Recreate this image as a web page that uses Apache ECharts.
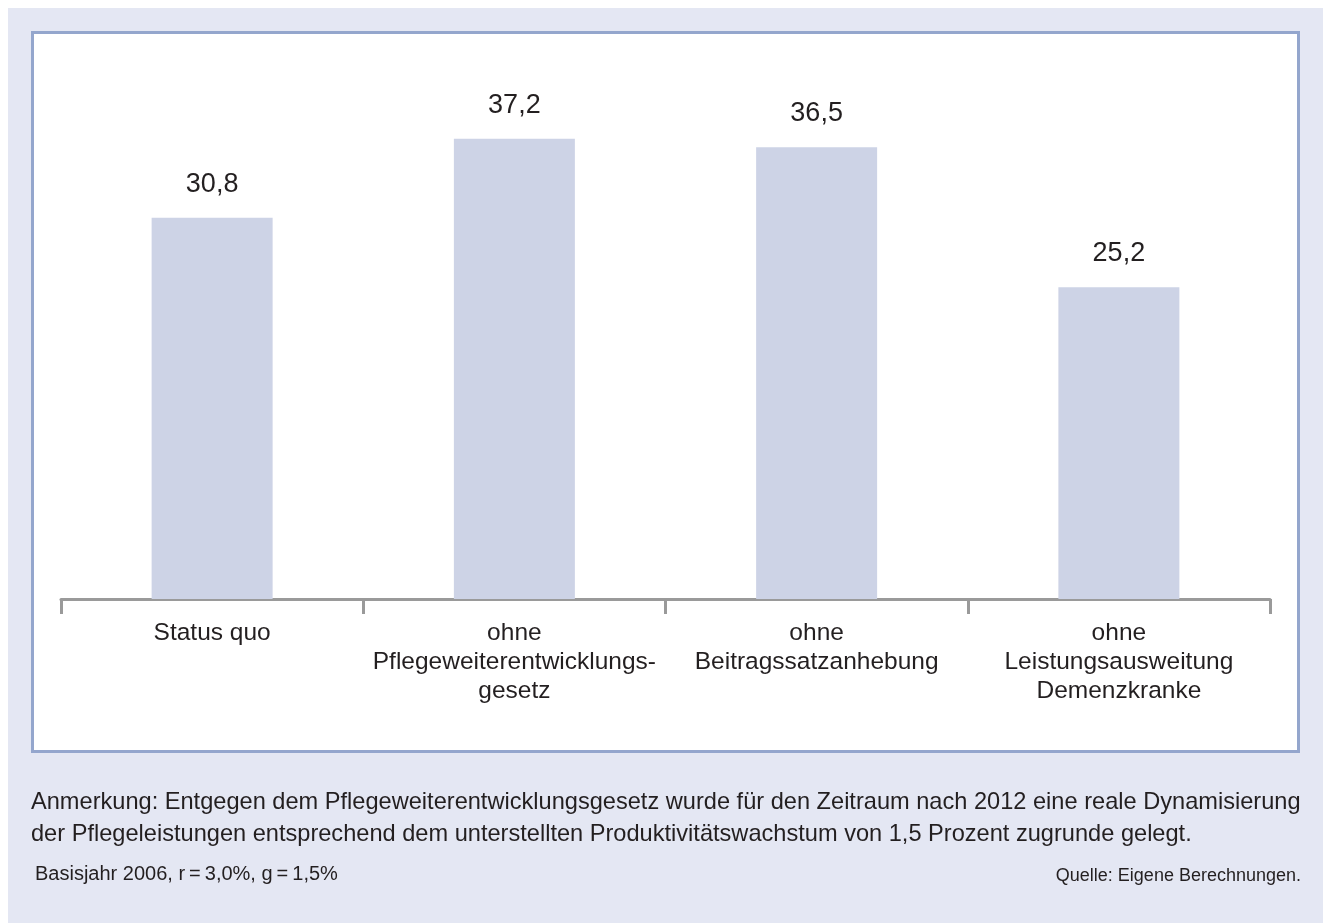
<!DOCTYPE html>
<html>
<head>
<meta charset="utf-8">
<style>
  html, body { margin: 0; padding: 0; background: #ffffff; }
  #chart { width: 1323px; height: 923px; }
</style>
<script src="https://cdn.jsdelivr.net/npm/echarts@6/dist/echarts.min.js"></script>
</head>
<body>
<div id="chart"></div>
<script>
// Scenarios and their values (percent)
const categories = [
  'Status quo',
  'ohne\nPflegeweiterentwicklungs-\ngesetz',
  'ohne\nBeitragssatzanhebung',
  'ohne\nLeistungsausweitung\nDemenzkranke'
];
const values = [30.8, 37.2, 36.5, 25.2];

const noteLines = [
  'Anmerkung: Entgegen dem Pflegeweiterentwicklungsgesetz wurde für den Zeitraum nach 2012 eine reale Dynamisierung',
  'der Pflegeleistungen entsprechend dem unterstellten Produktivitätswachstum von 1,5 Prozent zugrunde gelegt.'
];
const basisText = 'Basisjahr 2006, r\u2009=\u20093,0%, g\u2009=\u20091,5%';
const sourceText = 'Quelle: Eigene Berechnungen.';

const FONT = '"Liberation Sans", Arial, Helvetica, sans-serif';
const TEXT = '#231f20';

const chart = echarts.init(document.getElementById('chart'), null, { renderer: 'canvas' });

chart.setOption({
  backgroundColor: '#ffffff',
  animation: false,
  textStyle: { fontFamily: FONT },
  graphic: [
    { type: 'rect', z: -20, silent: true,
      shape: { x: 8, y: 8, width: 1315, height: 915 },
      style: { fill: '#e4e7f3' } },
    { type: 'rect', z: -19, silent: true,
      shape: { x: 32.5, y: 32.5, width: 1266, height: 719 },
      style: { fill: '#ffffff', stroke: '#94a6cd', lineWidth: 3 } },
    { type: 'text', left: 31, top: 786,
      style: { text: noteLines.join('\n'), fill: TEXT, font: '23.6px ' + FONT, lineHeight: 32 } },
    { type: 'text', left: 35, top: 864,
      style: { text: basisText, fill: TEXT, font: '20px ' + FONT } },
    { type: 'text', right: 22, top: 867,
      style: { text: sourceText, fill: TEXT, font: '18px ' + FONT, textAlign: 'right' } }
  ],
  grid: { left: 61, right: 53, top: 104, bottom: 324, containLabel: false },
  xAxis: {
    type: 'category',
    data: categories,
    axisLine: { show: true, lineStyle: { color: '#9a9a9a', width: 3 } },
    axisTick: { show: true, alignWithLabel: false, length: 15, lineStyle: { color: '#9a9a9a', width: 3 } },
    axisLabel: {
      color: TEXT, fontSize: 24.5, lineHeight: 29, margin: 20,
      fontFamily: FONT, interval: 0, align: 'center'
    }
  },
  yAxis: {
    type: 'value', min: 0, max: 40, show: false,
    splitLine: { show: false }
  },
  series: [{
    type: 'bar',
    data: values,
    barWidth: 121,
    itemStyle: { color: '#cdd3e6' },
    label: {
      show: true, position: 'top', distance: 20,
      color: TEXT, fontSize: 27, fontFamily: FONT,
      formatter: p => p.value.toFixed(1).replace('.', ',')
    }
  }]
});
</script>
</body>
</html>
